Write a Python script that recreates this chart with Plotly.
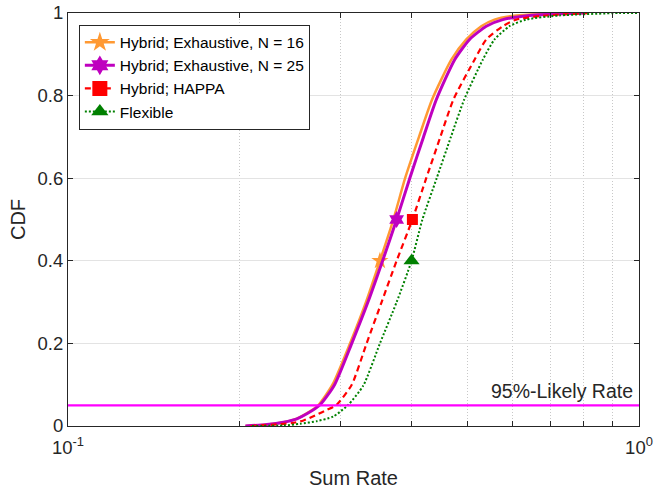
import plotly.graph_objects as go

# ---------------- data ----------------
series_names = ["Hybrid; Exhaustive, N = 16", "Hybrid; Exhaustive, N = 25", "Hybrid; HAPPA", "Flexible"]

rate_n16 = [0.2045, 0.2231, 0.2385, 0.2510, 0.2610, 0.2742, 0.2905, 0.3118, 0.3325, 0.3518, 0.3714,
            0.3894, 0.4118, 0.4340, 0.4692, 0.4984, 0.5293, 0.5584, 0.6093, 0.7800]
cdf_n16 = [0.0, 0.0036, 0.0093, 0.0174, 0.0295, 0.05, 0.1, 0.2, 0.3, 0.4, 0.5,
           0.6, 0.7, 0.79, 0.887, 0.936, 0.968, 0.984, 0.994, 1.0]

rate_n25 = [0.2045, 0.2231, 0.2385, 0.2517, 0.2620, 0.2764, 0.2930, 0.3140, 0.3352, 0.3556, 0.3763,
            0.3968, 0.4194, 0.4415, 0.4755, 0.5050, 0.5401, 0.5773, 0.6427, 0.8000]
cdf_n25 = [0.0, 0.0036, 0.0093, 0.0174, 0.0295, 0.0515, 0.1, 0.2, 0.3, 0.4, 0.5,
           0.6, 0.7, 0.79, 0.887, 0.936, 0.968, 0.984, 0.994, 1.0]

rate_happa = [0.2087, 0.2467, 0.2585, 0.2709, 0.2840, 0.2955, 0.3140, 0.3334, 0.3542, 0.3763, 0.4010,
              0.4240, 0.4489, 0.4730, 0.5152, 0.5401, 0.5773, 0.6093, 0.6874, 0.8300]
cdf_happa = [0.0, 0.007, 0.0134, 0.0255, 0.039, 0.0515, 0.1, 0.2, 0.3, 0.4, 0.5,
             0.6, 0.7, 0.79, 0.887, 0.936, 0.968, 0.984, 0.994, 1.0]

rate_flex = [0.2100, 0.2385, 0.2551, 0.2728, 0.2915, 0.3097, 0.3290, 0.3518, 0.3763, 0.3996, 0.4175,
             0.4423, 0.4684, 0.4940, 0.5327, 0.5584, 0.5931, 0.6343, 0.7251, 0.9228, 1.0]
cdf_flex = [0.0, 0.0012, 0.0053, 0.0117, 0.023, 0.0515, 0.098, 0.2, 0.3, 0.4, 0.5,
            0.6, 0.7, 0.79, 0.887, 0.936, 0.968, 0.984, 0.994, 1.0, 1.0]

marker_x = [0.3518, 0.3763, 0.4010, 0.3996]
marker_y = [0.4, 0.5, 0.5, 0.4]

likely_level = 0.05
likely_label = "95%-Likely Rate"

x_tickvals = [0.1, 0.2, 0.3, 0.4, 0.5, 0.6, 0.7, 0.8, 0.9, 1.0]
x_ticktext = ["10<sup>-1</sup>", "", "", "", "", "", "", "", "", "10<sup>0</sup>"]
y_tickvals = [0, 0.2, 0.4, 0.6, 0.8, 1.0]
y_ticktext = ["0", "0.2", "0.4", "0.6", "0.8", "1"]

# ---------------- styles ----------------
colors = ["#FF9933", "#BF00BF", "#FF0000", "#008000"]
widths = [2.5, 3, 2.2, 2]
dashes = ["solid", "solid", "6px,4px", "2px,2px"]
symbols = ["star", "hexagram", "square", "triangle-up"]
msizes = [13, 13, 11, 14]

FONT = "Liberation Sans, Arial, sans-serif"
AX = "#262626"

fig = go.Figure()
all_rates = [rate_n16, rate_n25, rate_happa, rate_flex]
all_cdfs = [cdf_n16, cdf_n25, cdf_happa, cdf_flex]
for i in range(4):
    fig.add_trace(go.Scatter(
        x=all_rates[i], y=all_cdfs[i], mode="lines", showlegend=False,
        line=dict(color=colors[i], width=widths[i], dash=dashes[i], shape="spline", smoothing=0.6),
        hoverinfo="skip"))
    fig.add_trace(go.Scatter(
        x=[marker_x[i]], y=[marker_y[i]], mode="markers", showlegend=False,
        marker=dict(symbol=symbols[i], size=msizes[i], color=colors[i], line=dict(width=0)),
        hoverinfo="skip"))

# legend entries (line + marker)
for i in range(4):
    fig.add_trace(go.Scatter(
        x=[None], y=[None], mode="lines+markers", name=series_names[i],
        line=dict(color=colors[i], width=widths[i], dash=dashes[i]),
        marker=dict(symbol=symbols[i], size=15, color=colors[i], line=dict(width=0))))

fig.add_shape(type="line", xref="x domain", yref="y", x0=0, x1=1,
              y0=likely_level, y1=likely_level, line=dict(color="#FF00FF", width=2.2))
fig.add_annotation(xref="x domain", yref="y", x=1, y=likely_level, text=likely_label,
                   showarrow=False, xanchor="right", yanchor="bottom", xshift=-4, yshift=1,
                   font=dict(family=FONT, size=19.5, color=AX))

fig.update_xaxes(type="log", range=[-1, 0], tickvals=x_tickvals, ticktext=x_ticktext,
                 showgrid=True, gridcolor="#c8c8c8", griddash="1px,2px", gridwidth=1,
                 ticks="inside", ticklen=5, tickcolor=AX, showline=True, linecolor=AX,
                 linewidth=1, mirror="ticks", zeroline=False, automargin=False,
                 ticklabeloverflow="allow", ticklabelstandoff=5,
                 tickfont=dict(family=FONT, size=18.5, color=AX),
                 title=dict(text="Sum Rate", font=dict(family=FONT, size=20, color=AX), standoff=13))
fig.update_yaxes(range=[0, 1], tickvals=y_tickvals, ticktext=y_ticktext,
                 showgrid=True, gridcolor="#e3e3e3", gridwidth=1,
                 ticks="inside", ticklen=5, tickcolor=AX, showline=True, linecolor=AX,
                 linewidth=1, mirror="ticks", zeroline=False, automargin=False,
                 ticklabeloverflow="allow",
                 tickfont=dict(family=FONT, size=18.5, color=AX),
                 title=dict(text="CDF", font=dict(family=FONT, size=20, color=AX), standoff=6))

fig.update_layout(
    width=654, height=489,
    margin=dict(l=68, r=15, t=13, b=63),
    paper_bgcolor="white", plot_bgcolor="white",
    legend=dict(x=0.019, y=0.972, xanchor="left", yanchor="top",
                bgcolor="white", bordercolor=AX, borderwidth=1,
                font=dict(family=FONT, size=15.5, color="black"), tracegroupgap=0),
    font=dict(family=FONT),
)

# remove the browser's default 8px body margin so the figure sits at the window origin
fig.write_html("out.html", config={"displayModeBar": False},
               post_script="document.body.style.margin='0px';document.body.style.overflow='hidden';")
